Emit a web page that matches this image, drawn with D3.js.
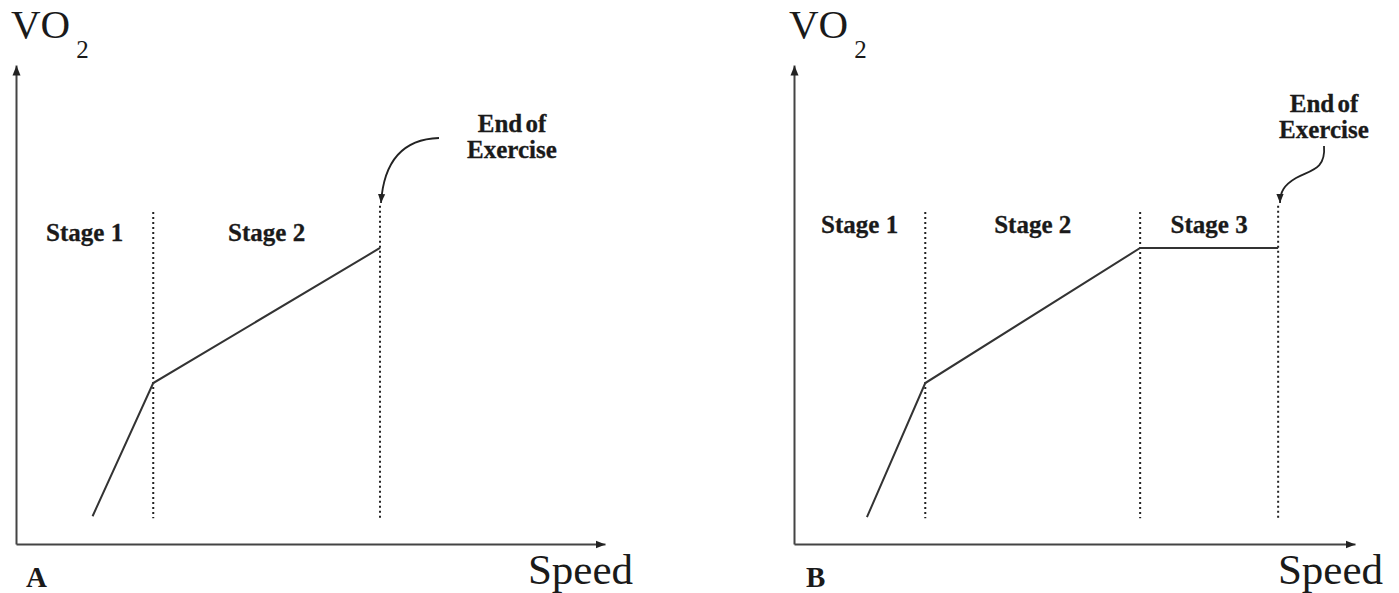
<!DOCTYPE html>
<html>
<head>
<meta charset="utf-8">
<script src="https://cdn.jsdelivr.net/npm/d3@7"></script>
<style>
  html, body { margin: 0; padding: 0; background: #fff; }
  svg { display: block; }
  text { font-family: "Liberation Serif", "Times New Roman", serif; fill: #1a1a1a; }
</style>
</head>
<body>
<svg id="chart" width="1399" height="593"></svg>
<script>
// ---- data (arbitrary units, 0-100 on each axis) ----
const panelNames = ["A", "B"];
const speedA = [13.0, 23.3, 61.8];
const vo2A   = [5.8, 33.6, 61.8];
const speedB = [13.0, 23.4, 61.7, 86.3];
const vo2B   = [5.6, 33.6, 61.8, 61.8];
const stageEndsA = [23.3, 61.8];
const stageEndsB = [23.4, 61.7, 86.3];
const stageLabelsA = ["Stage 1", "Stage 2"];
const stageLabelsB = ["Stage 1", "Stage 2", "Stage 3"];
const xAxisLabel = "Speed";
const yAxisLabel = "VO";
const yAxisSub = "2";
const endLabel = ["End of", "Exercise"];

// ---- layout ----
const svg = d3.select("#chart");
const ink = "#333";
const defs = svg.append("defs");
defs.append("marker").attr("id", "axArrow")
  .attr("viewBox", "0 0 10 10").attr("refX", 10).attr("refY", 5)
  .attr("markerWidth", 10).attr("markerHeight", 10)
  .attr("markerUnits", "userSpaceOnUse").attr("orient", "auto")
  .append("path").attr("d", "M0,1 L10,5 L0,9 Z").attr("fill", "#222");
defs.append("marker").attr("id", "curveArrow")
  .attr("viewBox", "0 0 10 10").attr("refX", 10).attr("refY", 5)
  .attr("markerWidth", 9).attr("markerHeight", 9)
  .attr("markerUnits", "userSpaceOnUse").attr("orient", "auto")
  .append("path").attr("d", "M0,1 L10,5 L0,9 Z").attr("fill", "#222");

const layouts = {
  A: { x0: 16, x1: 605, stageY: 241, endX: 512, endY: [132, 158], labelX: 26,
       arrow: "M439,138 C406,139 384,158 381,203" },
  B: { x0: 794, x1: 1355, stageY: 233, endX: 1324, endY: [112, 138], labelX: 806,
       arrow: "M1324,146 C1326,170 1310,170 1296,178 C1284,185 1280,192 1280,203" }
};
const yTop = 65, yBot = 544;

const panelData = {
  A: { speed: speedA, vo2: vo2A, ends: stageEndsA, labels: stageLabelsA },
  B: { speed: speedB, vo2: vo2B, ends: stageEndsB, labels: stageLabelsB }
};

panelNames.forEach(name => {
  const L = layouts[name];
  const D = panelData[name];
  const x = d3.scaleLinear().domain([0, 100]).range([L.x0, L.x1]);
  const y = d3.scaleLinear().domain([0, 100]).range([yBot, yTop]);
  const g = svg.append("g");

  // axes (no ticks), arrowheads on the ends
  const xa = g.append("g").attr("transform", `translate(0,${yBot})`)
    .call(d3.axisBottom(x).tickValues([]).tickSizeOuter(0));
  xa.select(".domain").attr("stroke", "#444").attr("stroke-width", 2)
    .attr("marker-end", "url(#axArrow)");
  const ya = g.append("g").attr("transform", `translate(${L.x0},0)`)
    .call(d3.axisLeft(y).tickValues([]).tickSizeOuter(0));
  ya.select(".domain").attr("stroke", "#444").attr("stroke-width", 2)
    .attr("marker-end", "url(#axArrow)");

  // stage dividers
  const lastIdx = D.ends.length - 1;
  g.selectAll("line.div").data(D.ends).join("line")
    .attr("x1", d => x(d)).attr("x2", d => x(d))
    .attr("y1", (d, i) => i === lastIdx ? y(70.6) : y(69.3))
    .attr("y2", y(5.4))
    .attr("stroke", "#222").attr("stroke-width", 2)
    .attr("stroke-dasharray", "2,3");

  // VO2 line
  const pts = D.speed.map((s, i) => [s, D.vo2[i]]);
  g.append("path").datum(pts)
    .attr("d", d3.line().x(d => x(d[0])).y(d => y(d[1])))
    .attr("fill", "none").attr("stroke", ink).attr("stroke-width", 2);

  // stage labels
  const bounds = [0, ...D.ends];
  g.selectAll("text.stage").data(D.labels).join("text")
    .attr("x", (d, i) => x((bounds[i] + bounds[i + 1]) / 2))
    .attr("y", L.stageY)
    .attr("text-anchor", "middle")
    .attr("font-weight", "bold").attr("font-size", 25)
    .attr("stroke", "#1a1a1a").attr("stroke-width", 0.3)
    .text(d => d);

  // end of exercise
  g.selectAll("text.end").data(endLabel).join("text")
    .attr("x", L.endX).attr("y", (d, i) => L.endY[i])
    .attr("text-anchor", "middle")
    .attr("font-weight", "bold").attr("font-size", 25)
    .attr("stroke", "#1a1a1a").attr("stroke-width", 0.3)
    .attr("word-spacing", -3)
    .text(d => d);
  g.append("path").attr("d", L.arrow)
    .attr("fill", "none").attr("stroke", "#222").attr("stroke-width", 1.8)
    .attr("marker-end", "url(#curveArrow)");

  // axis titles
  const vt = g.append("text").attr("x", L.x0 - 5).attr("y", 38).attr("font-size", 41);
  vt.append("tspan").text(yAxisLabel);
  vt.append("tspan").attr("font-size", 25).attr("dy", 20).attr("dx", 6).text(yAxisSub);

  g.append("text").attr("x", L.x1 + 28).attr("y", 584)
    .attr("text-anchor", "end").attr("font-size", 43).text(xAxisLabel);

  g.append("text").attr("x", L.labelX).attr("y", 587)
    .attr("font-weight", "bold").attr("font-size", 29).text(name);
});
</script>
</body>
</html>
